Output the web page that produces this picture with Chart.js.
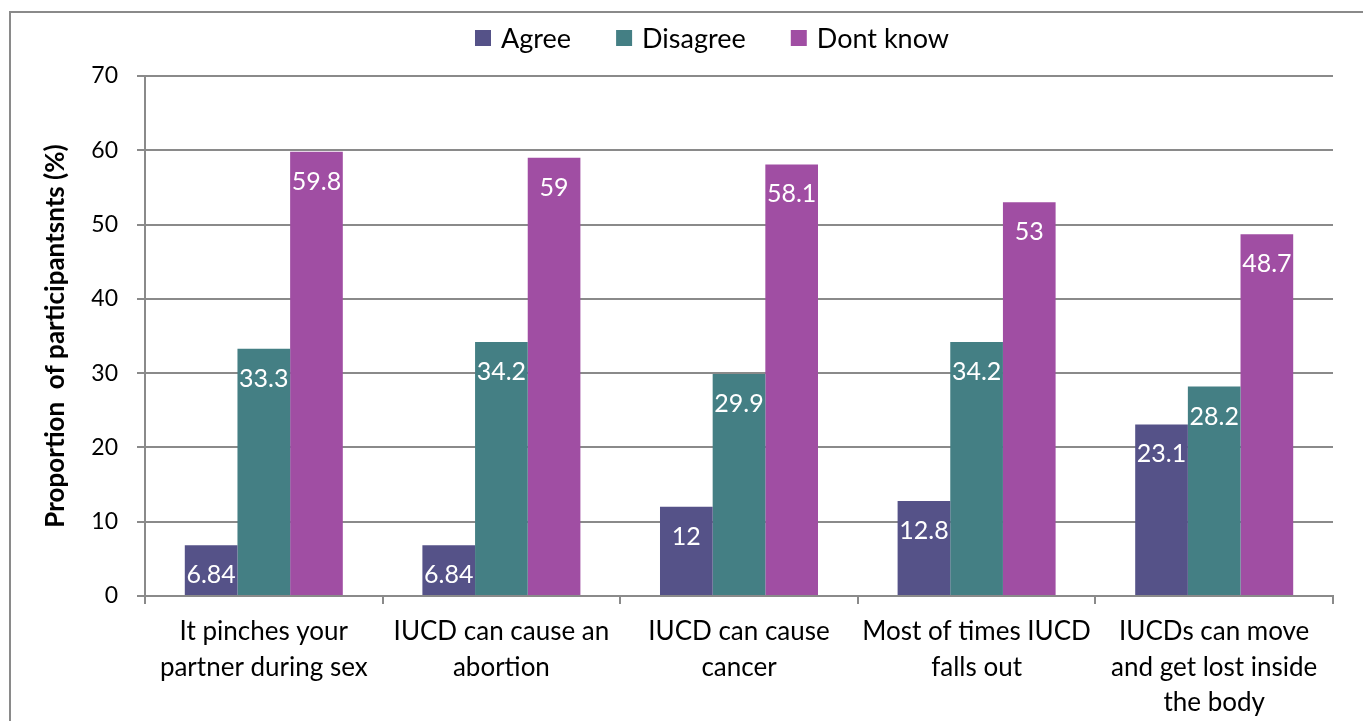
<!DOCTYPE html>
<html>
<head>
<meta charset="utf-8">
<script src="https://cdn.jsdelivr.net/npm/chart.js@4"></script>
<style>
html,body{margin:0;padding:0;background:#fff;}
#wrap{width:1363px;height:721px;position:relative;}
</style>
</head>
<body>
<div id="wrap"><canvas id="c" width="1363" height="721"></canvas></div>
<script>
const categories = [
  ["It pinches your", "partner during sex"],
  ["IUCD can cause an", "abortion"],
  ["IUCD can cause", "cancer"],
  ["Most of times IUCD", "falls out"],
  ["IUCDs can move", "and get lost inside", "the body"]
];
const seriesNames = ["Agree", "Disagree", "Dont know"];
const agree = [6.84, 6.84, 12, 12.8, 23.1];
const disagree = [33.3, 34.2, 29.9, 34.2, 28.2];
const dontKnow = [59.8, 59, 58.1, 53, 48.7];
const yTicks = [0, 10, 20, 30, 40, 50, 60, 70];
const yTitle = "Proportion  of participantsnts (%)";

const colors = ["#555288", "#447F84", "#A04EA3"];
const FONT = "Lato, Calibri, 'Open Sans', sans-serif";

const borderPlugin = {
  id: 'outerBorder',
  beforeDraw(chart) {
    const ctx = chart.ctx;
    ctx.save();
    ctx.strokeStyle = '#8a8a8a';
    ctx.lineWidth = 2;
    ctx.strokeRect(10, 12, 1400, 800);
    ctx.restore();
  }
};

const labelPlugin = {
  id: 'barLabels',
  afterDatasetsDraw(chart) {
    const ctx = chart.ctx;
    ctx.save();
    ctx.fillStyle = '#ffffff';
    ctx.font = "25px " + FONT;
    ctx.textAlign = 'center';
    ctx.textBaseline = 'middle';
    chart.data.datasets.forEach((ds, i) => {
      const meta = chart.getDatasetMeta(i);
      meta.data.forEach((bar, j) => {
        ctx.fillText(String(ds.data[j]), bar.x, bar.y + 30);
      });
    });
    ctx.restore();
  }
};

const legendPlugin = {
  id: 'customLegend',
  afterDraw(chart) {
    const ctx = chart.ctx;
    ctx.save();
    ctx.font = "27px " + FONT;
    ctx.textBaseline = 'middle';
    ctx.textAlign = 'left';
    const box = 16, gapText = 10, gapItem = 45, cy = 38;
    let total = 0;
    chart.data.datasets.forEach((ds, i) => {
      total += box + gapText + ctx.measureText(ds.label).width + (i ? gapItem : 0);
    });
    let x = 712 - total / 2;
    chart.data.datasets.forEach((ds) => {
      ctx.fillStyle = ds.backgroundColor;
      ctx.fillRect(x, cy - box / 2, box, box);
      x += box + gapText;
      ctx.fillStyle = '#000';
      ctx.fillText(ds.label, x, cy + 1);
      x += ctx.measureText(ds.label).width + gapItem;
    });
    ctx.restore();
  }
};

new Chart(document.getElementById('c'), {
  type: 'bar',
  data: {
    labels: categories,
    datasets: [
      { label: seriesNames[0], data: agree, backgroundColor: colors[0] },
      { label: seriesNames[1], data: disagree, backgroundColor: colors[1] },
      { label: seriesNames[2], data: dontKnow, backgroundColor: colors[2] }
    ]
  },
  options: {
    responsive: false,
    animation: false,
    devicePixelRatio: 1,
    layout: { padding: { top: 76, right: 30, left: 0, bottom: 0 } },
    datasets: { bar: { categoryPercentage: 0.665, barPercentage: 1.0, borderWidth: 0 } },
    plugins: {
      legend: { display: false },
      tooltip: { enabled: false }
    },
    scales: {
      x: {
        grid: { offset: true, drawOnChartArea: false, drawTicks: true, tickLength: 8, color: '#8a8a8a', lineWidth: 2 },
        border: { display: true, color: '#8a8a8a', width: 2 },
        ticks: { color: '#000', font: { family: FONT, size: 26, lineHeight: 1.365 }, padding: 10, maxRotation: 0, autoSkip: false },
        afterFit(scale) { scale.height = 125; }
      },
      y: {
        min: 0, max: 70,
        afterBuildTicks(scale) { scale.ticks = yTicks.map(v => ({ value: v })); },
        grid: { color: '#8a8a8a', lineWidth: 2, tickLength: 8, drawTicks: true },
        border: { display: true, color: '#8a8a8a', width: 2 },
        ticks: { color: '#000', font: { family: FONT, size: 23 }, padding: 19 },
        title: { display: true, text: yTitle, color: '#000', font: { family: FONT, size: 26, weight: 'bold' }, padding: { top: 40, bottom: 0 } },
        afterFit(scale) { scale.width = 145; }
      }
    }
  },
  plugins: [borderPlugin, labelPlugin, legendPlugin]
});
</script>
</body>
</html>
